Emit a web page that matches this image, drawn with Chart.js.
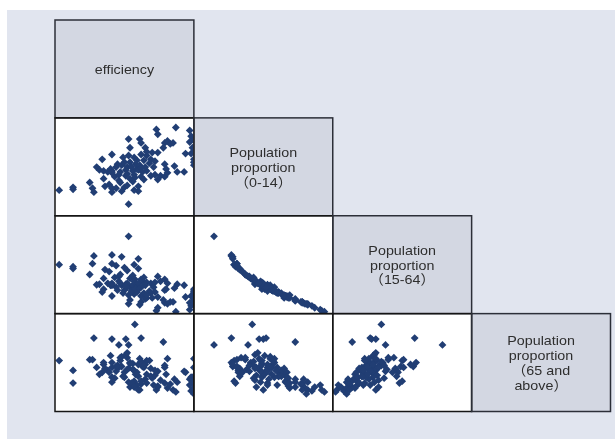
<!DOCTYPE html>
<html>
<head>
<meta charset="utf-8">
<script src="https://cdn.jsdelivr.net/npm/chart.js@4/dist/chart.umd.min.js"></script>
<style>
  html, body { margin: 0; padding: 0; background: #ffffff; }
  canvas { display: block; }
</style>
</head>
<body>
<canvas id="matrix" width="615" height="439"></canvas>
<script>
// One observation per region: efficiency score and population age structure (%)
const efficiency = [
  0.224, 0.304, 0.304, 0.400, 0.424, 0.416, 0.472, 0.440, 0.456, 0.480,
  0.504, 0.528, 0.528, 0.480, 0.528, 0.528, 0.584, 0.600, 0.624, 0.624,
  0.632, 0.688, 0.696, 0.720, 0.680, 0.680, 0.656, 0.616, 0.784, 0.792,
  0.896, 0.976, 0.984, 0.976, 0.992, 0.832, 0.848, 0.864, 0.880, 0.824,
  0.792, 0.760, 0.696, 0.728, 0.656, 0.672, 0.632, 0.712, 0.752, 0.952,
  0.984, 0.560, 0.584, 0.616, 0.576, 0.608, 0.648, 0.672, 0.704, 0.728,
  0.832, 0.840, 0.904, 0.944, 0.888, 0.752, 0.776, 0.808, 0.832, 0.544,
  0.568, 0.632, 0.660, 0.696, 0.616, 1.000, 1.000, 1.000, 1.000, 1.000,
  0.552, 0.600, 0.640, 0.664, 0.688, 0.568, 0.520, 0.656, 0.720, 0.744,
  0.768, 0.680, 0.592, 0.624, 0.728, 0.776, 0.528, 0.608, 0.696, 0.848,
  0.552, 0.488, 0.512, 0.576, 0.648, 0.712, 0.792
];
const popYoung = [
  13.8, 14.4, 14.0, 15.4, 13.4, 14.2, 20.2, 18.6, 18.0, 17.8,
  17.6, 17.8, 21.2, 16.2, 14.2, 13.4, 13.6, 14.4, 10.9, 24.4,
  22.6, 24.4, 23.6, 22.6, 13.6, 14.6, 13.8, 14.8, 26.4, 25.4,
  26.8, 26.2, 25.0, 23.8, 22.6, 23.6, 24.0, 23.4, 23.6, 22.6,
  21.6, 21.6, 21.2, 21.0, 20.6, 20.0, 19.6, 20.0, 20.2, 21.4,
  21.4, 19.2, 19.0, 18.6, 17.6, 16.8, 17.8, 18.2, 17.6, 17.8,
  19.2, 18.2, 17.6, 17.6, 18.8, 16.8, 17.0, 16.8, 16.6, 16.6,
  15.8, 16.2, 16.4, 16.6, 17.2, 24.2, 21.8, 20.2, 19.0, 19.6,
  18.6, 19.6, 18.6, 19.2, 19.0, 17.0, 18.2, 17.0, 18.6, 19.4,
  18.6, 18.0, 20.6, 21.0, 21.8, 19.8, 17.4, 18.0, 18.4, 17.4,
  14.2, 14.6, 15.0, 15.4, 15.6, 16.0, 16.0
];
const popWorking = [
  70.0, 69.2, 69.6, 68.0, 71.8, 70.2, 64.4, 65.9, 66.0, 65.0,
  66.2, 65.8, 63.6, 67.2, 70.2, 72.0, 71.6, 69.4, 75.8, 62.0,
  62.8, 61.8, 62.4, 63.0, 71.2, 69.2, 70.0, 68.8, 60.6, 61.2,
  60.4, 60.8, 61.6, 62.2, 62.6, 62.2, 62.0, 62.4, 62.4, 62.8,
  63.4, 63.2, 63.6, 63.2, 64.0, 64.4, 65.4, 64.2, 64.2, 63.4,
  63.6, 64.8, 65.8, 65.4, 66.2, 66.0, 65.8, 65.6, 66.6, 66.4,
  64.8, 65.0, 66.0, 65.8, 65.2, 66.2, 66.4, 66.6, 67.0, 67.4,
  67.6, 67.2, 67.0, 67.0, 66.2, 62.0, 63.2, 64.4, 65.0, 64.6,
  65.4, 64.8, 64.6, 65.0, 65.2, 66.6, 65.8, 66.6, 65.8, 64.6,
  65.4, 66.2, 64.2, 63.8, 63.8, 64.4, 66.2, 65.6, 65.4, 66.2,
  69.8, 69.0, 68.6, 68.0, 67.8, 67.4, 67.6
];
const popElderly = [
  10.4, 8.4, 5.8, 10.6, 15.0, 10.6, 8.0, 9.0, 7.6, 9.6,
  8.4, 7.0, 6.0, 10.0, 9.0, 10.0, 9.2, 8.0, 13.6, 6.0,
  5.0, 4.4, 5.6, 6.6, 9.6, 7.2, 6.2, 11.0, 4.4, 5.0,
  4.0, 5.4, 4.2, 6.6, 6.0, 5.8, 4.8, 5.6, 4.4, 14.2,
  5.2, 6.8, 6.2, 7.6, 8.4, 5.4, 10.0, 9.0, 7.2, 8.0,
  7.0, 9.4, 11.2, 8.6, 10.4, 11.6, 9.8, 8.0, 9.2, 10.4,
  9.0, 7.6, 6.0, 8.2, 6.6, 8.8, 7.4, 6.4, 9.4, 6.8,
  13.6, 9.8, 17.8, 10.2, 12.0, 3.6, 4.8, 7.2, 9.0, 10.8,
  8.2, 7.0, 5.8, 7.6, 10.8, 9.0, 11.4, 5.0, 9.6, 10.4,
  5.4, 4.4, 7.2, 8.8, 5.8, 8.4, 14.8, 14.8, 15.0, 10.8,
  9.2, 8.8, 8.0, 11.0, 8.6, 9.4, 8.2
];

// Names shown in the diagonal cells, one entry per line
const variableLabels = [
  ['efficiency'],
  ['Population', 'proportion', '（0-14）'],
  ['Population', 'proportion', '（15-64）'],
  ['Population', 'proportion', '（65 and', 'above）']
];

const variables = [efficiency, popYoung, popWorking, popElderly];

// Value range of each variable on its column (x) and row (y) axis
const columnRanges = [[0.2, 1.0], [8, 28], [60, 80], [0, 20]];
const rowRanges = [[0.2, 1.0], [8.5, 28.8], [60, 80], [0, 20]];

const pointColor = '#213e74';
const n = variables.length;

// Lower-triangle panels: column variable on x, row variable on y
const datasets = [];
for (let r = 1; r < n; r++) {
  for (let c = 0; c < r; c++) {
    datasets.push({
      label: 'r' + r + 'c' + c,
      xAxisID: 'x' + c,
      yAxisID: 'y' + r,
      data: variables[c].map((v, i) => ({ x: v, y: variables[r][i] })),
      pointStyle: 'rectRot',
      pointRadius: 3.9,
      pointBorderWidth: 0,
      pointBackgroundColor: pointColor,
      pointBorderColor: pointColor,
      showLine: false
    });
  }
}

// Stacked axes split the plot area into an n x n grid of panels
const scales = {};
for (let i = 0; i < n; i++) {
  scales['x' + i] = {
    type: 'linear', position: 'bottom', stack: 'cols', stackWeight: 1, weight: i + 1,
    min: columnRanges[i][0], max: columnRanges[i][1], display: false
  };
  scales['y' + i] = {
    type: 'linear', position: 'left', stack: 'rows', stackWeight: 1, weight: n - i,
    min: rowRanges[i][0], max: rowRanges[i][1], display: false
  };
}

function cellRect(chart, r, c) {
  const xs = chart.scales['x' + c];
  const ys = chart.scales['y' + r];
  return { left: xs.left, right: xs.right, top: ys.top, bottom: ys.bottom };
}

const matrixPlugin = {
  id: 'matrixCells',
  beforeDraw(chart) {
    const { ctx, width, height } = chart;
    ctx.save();
    ctx.fillStyle = '#ffffff';
    ctx.fillRect(0, 0, width, height);
    ctx.fillStyle = '#e1e5ef';
    ctx.fillRect(7, 10, width - 7, height - 10);
    for (let r = 0; r < n; r++) {
      for (let c = 0; c <= r; c++) {
        const a = cellRect(chart, r, c);
        ctx.fillStyle = r === c ? '#d3d7e2' : '#ffffff';
        ctx.fillRect(a.left, a.top, a.right - a.left, a.bottom - a.top);
      }
    }
    ctx.restore();
  },
  afterDatasetsDraw(chart) {
    const { ctx } = chart;
    ctx.save();
    ctx.lineWidth = 1.5;
    for (let r = 0; r < n; r++) {
      for (let c = 0; c <= r; c++) {
        const a = cellRect(chart, r, c);
        ctx.strokeStyle = r === c ? '#2c2f38' : '#151515';
        ctx.strokeRect(a.left, a.top, a.right - a.left, a.bottom - a.top);
      }
    }
    ctx.fillStyle = '#2e2e2e';
    ctx.font = "13.5px 'Liberation Sans', 'Noto Sans CJK SC', sans-serif";
    ctx.textAlign = 'center';
    ctx.textBaseline = 'middle';
    const lineGap = 14.8;
    for (let i = 0; i < n; i++) {
      const a = cellRect(chart, i, i);
      const cx = (a.left + a.right) / 2;
      const cy = (a.top + a.bottom) / 2 + 1.2;
      const lines = variableLabels[i];
      lines.forEach((line, k) => {
        const y = cy + (k - (lines.length - 1) / 2) * lineGap;
        ctx.save();
        ctx.translate(cx, y);
        ctx.scale(1.06, 1);
        ctx.fillText(line, 0, 0);
        ctx.restore();
      });
    }
    ctx.restore();
  }
};

new Chart(document.getElementById('matrix'), {
  type: 'scatter',
  data: { datasets },
  options: {
    responsive: false,
    animation: false,
    events: [],
    layout: { padding: { left: 55, top: 20, right: 4.5, bottom: 27.5 } },
    scales,
    plugins: {
      legend: { display: false },
      tooltip: { enabled: false },
      title: { display: false }
    }
  },
  plugins: [matrixPlugin]
});
</script>
</body>
</html>
